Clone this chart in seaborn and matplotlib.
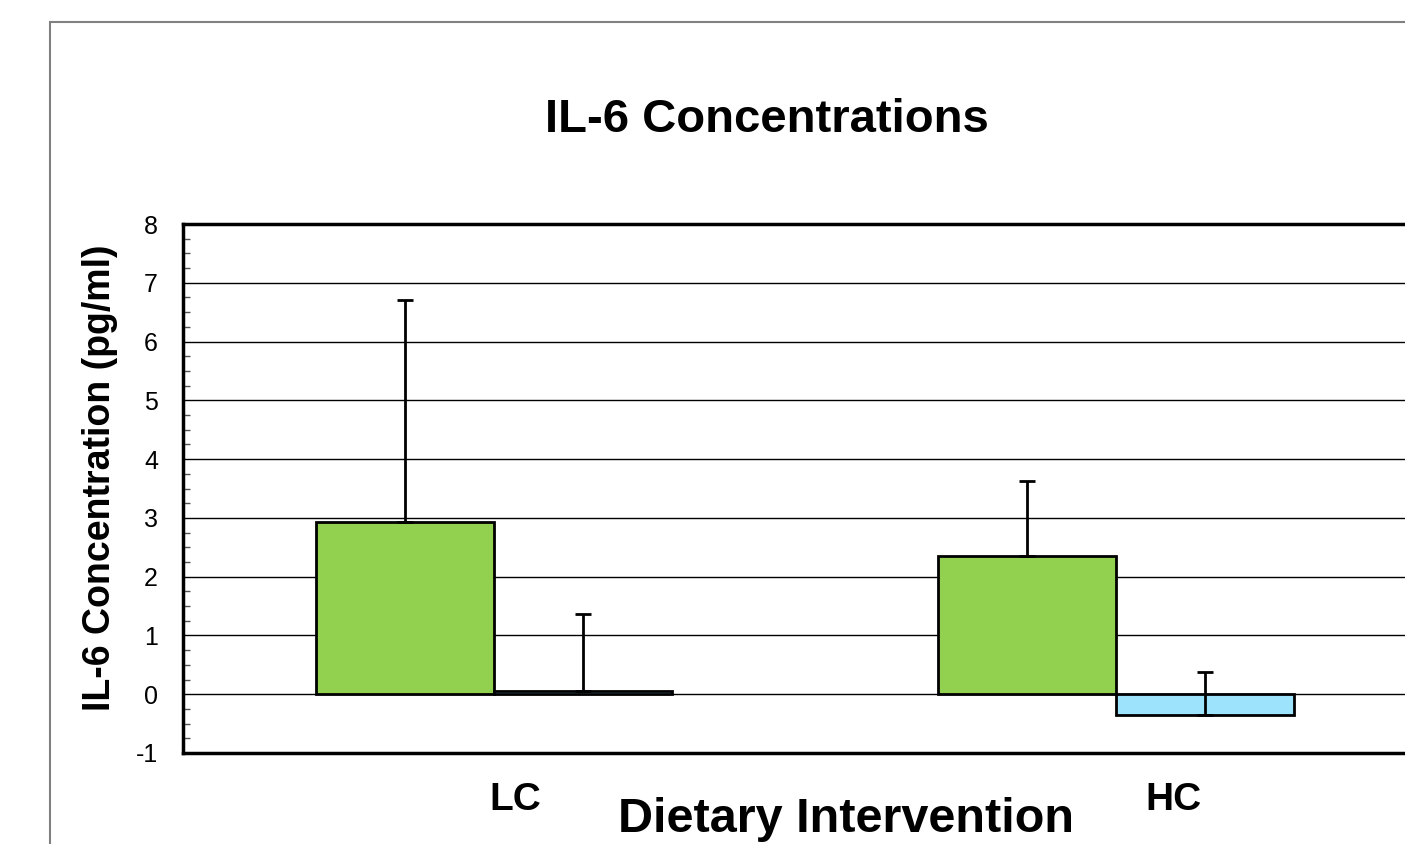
import pandas as pd
import matplotlib
matplotlib.use("Agg")
import matplotlib.pyplot as plt
import matplotlib.patches as mpatches
from matplotlib.ticker import MultipleLocator
import seaborn as sns

# Data
diets = ["LC", "LC", "HC", "HC"]
groups = ["A", "B", "A", "B"]
means = [2.93, 0.06, 2.36, -0.36]
upper_err = [3.78, 1.30, 1.27, 0.74]

df = pd.DataFrame({"Diet": diets, "Group": groups, "IL6": means})

sns.set_style("white")
plt.rcParams["font.family"] = ["Liberation Sans", "DejaVu Sans"]
plt.rcParams["text.color"] = "black"
plt.rcParams["axes.labelcolor"] = "black"
plt.rcParams["xtick.color"] = "black"
plt.rcParams["ytick.color"] = "black"
plt.rcParams["axes.unicode_minus"] = False

fig = plt.figure(figsize=(14.05, 8.44), dpi=100)
# outer chart border (runs off the right and bottom edges)
fig.patches.append(mpatches.Rectangle((50 / 1405, -0.1), 2, 1 - 22 / 844 + 0.1,
                                      transform=fig.transFigure, fill=False,
                                      edgecolor="#808080", lw=1.5))

ax = fig.add_axes([183 / 1405, 1 - 753 / 844, (1427 - 183) / 1405, (753 - 224) / 844])

sns.barplot(data=df, x="Diet", y="IL6", hue="Group", order=["LC", "HC"],
            palette=["#92D050", "#9DE3FB"], saturation=1, width=0.572,
            edgecolor="black", linewidth=2, errorbar=None, legend=False, ax=ax)

# upward-only error bars at bar centres
bars = sorted(ax.patches, key=lambda p: p.get_x())
for bar, m, e in zip(bars, means, upper_err):
    xc = bar.get_x() + bar.get_width() / 2
    ax.errorbar(xc, m, yerr=[[0], [e]], fmt="none", ecolor="black",
                elinewidth=2, capsize=6, capthick=2, zorder=5)

ax.set_ylim(-1, 8)
ax.set_xlim(-0.5, 1.5)
ax.yaxis.set_major_locator(MultipleLocator(1))
ax.yaxis.set_minor_locator(MultipleLocator(0.25))
ax.grid(axis="y", which="major", color="black", lw=1)
ax.set_axisbelow(True)

ax.set_xticks([0.034, 1.092])
ax.set_xticklabels(["LC", "HC"], fontweight="bold", fontsize=28)
ax.tick_params(axis="x", length=0, pad=21)
ax.tick_params(axis="y", which="major", length=0, labelsize=18, pad=18)
ax.tick_params(axis="y", which="minor", left=True, direction="in", length=5,
               width=1, color="#555555")

for s in ["left", "top", "bottom"]:
    ax.spines[s].set_color("black")
    ax.spines[s].set_linewidth(2.5)
ax.spines["right"].set_visible(False)

ax.set_ylabel("")
ax.set_xlabel("")
fig.text(100 / 1405, 1 - 478 / 844, "IL-6 Concentration (pg/ml)", fontsize=27,
         fontweight="bold", rotation=90, ha="center", va="center")
fig.text(846 / 1405, 1 - 832 / 844, "Dietary Intervention", fontsize=35,
         fontweight="bold", ha="center", va="baseline")
fig.text(767 / 1405, 1 - 120 / 844, "IL-6 Concentrations", fontsize=34,
         fontweight="bold", ha="center", va="center")

fig.savefig("out.png", dpi=100)
